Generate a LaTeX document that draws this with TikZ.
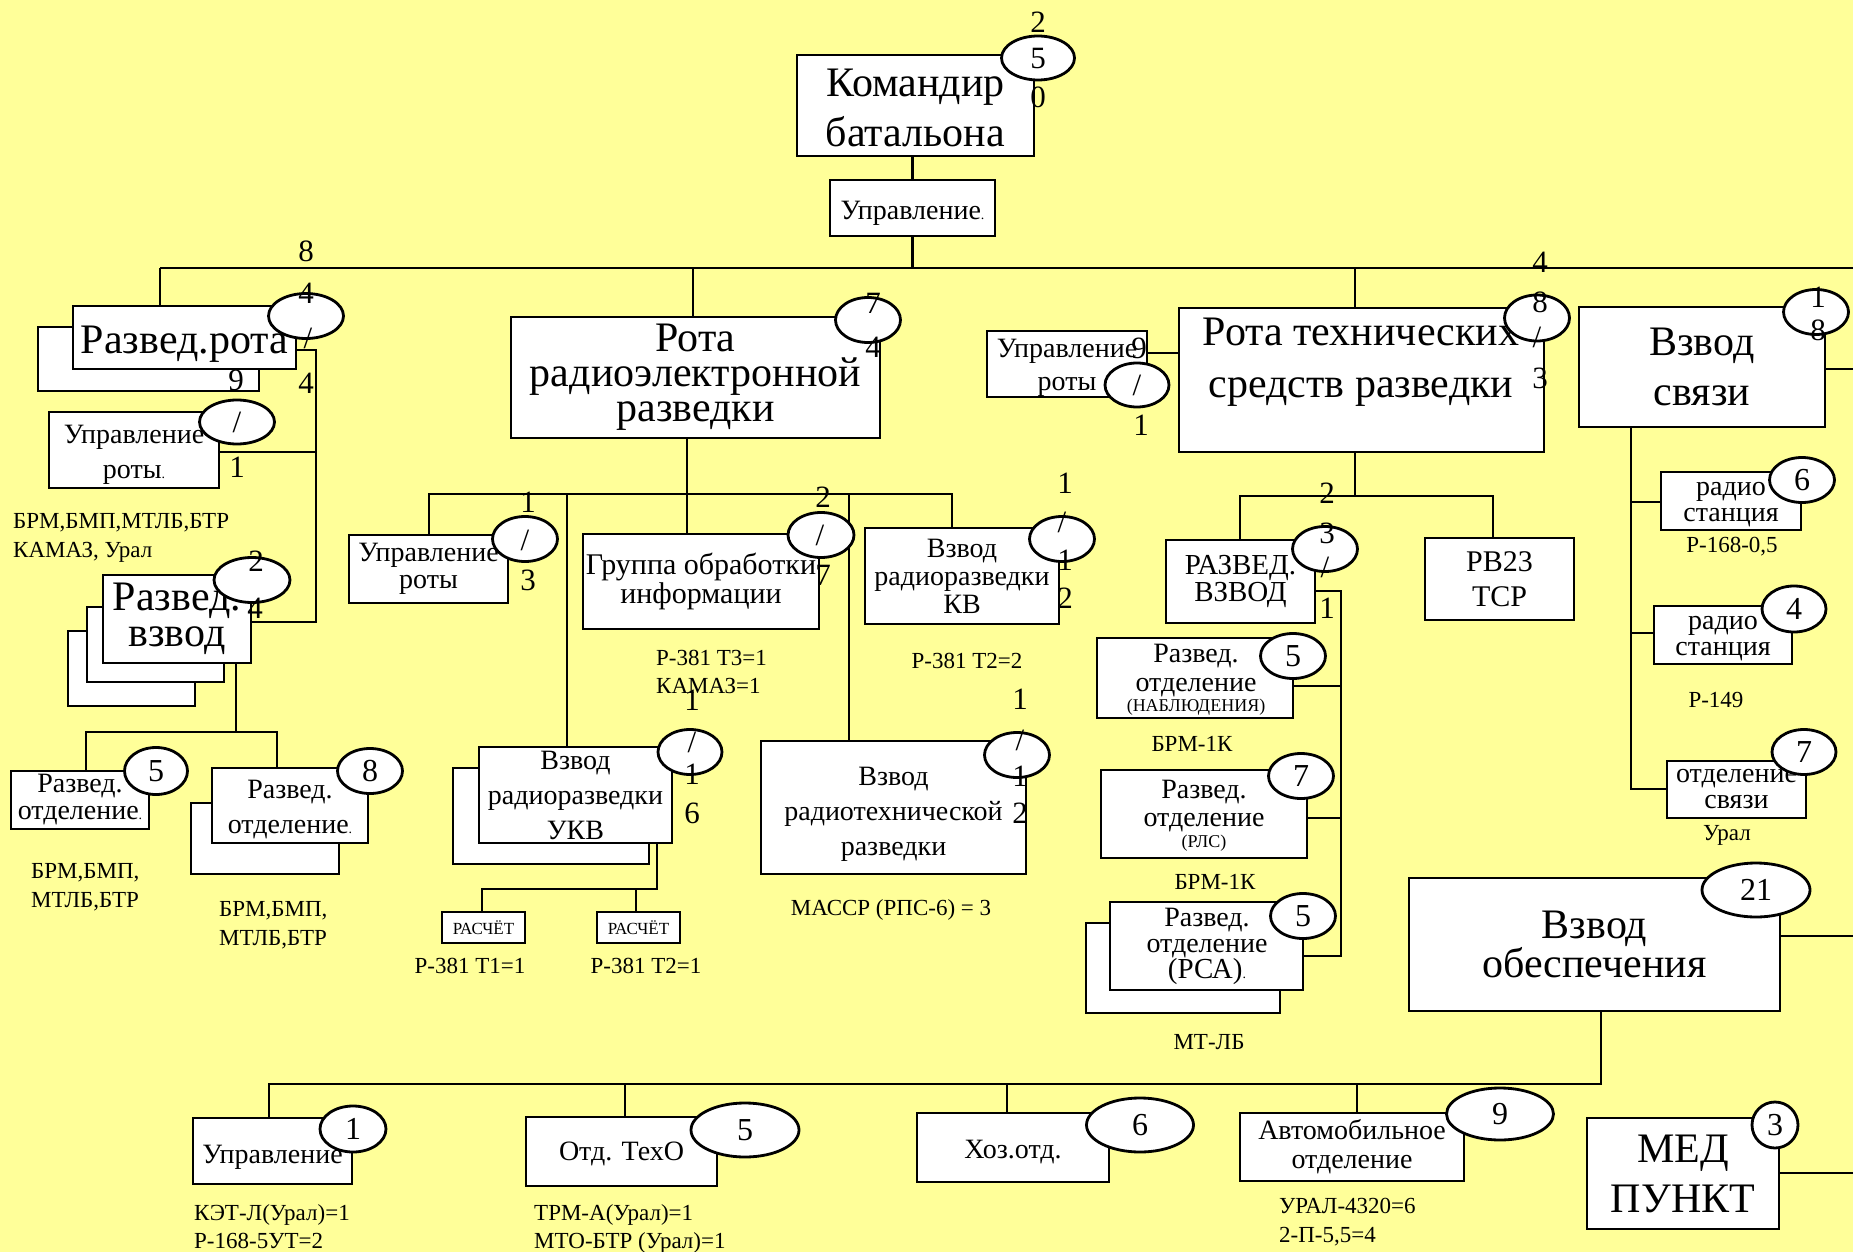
\documentclass[tikz,border=0pt]{standalone}
\usepackage{fontspec}
\setmainfont{Liberation Serif}
\usetikzlibrary{shapes.geometric}
\pgfdeclarelayer{bg}\pgfdeclarelayer{edges}
\pgfsetlayers{bg,edges,main}
\definecolor{bgy}{RGB}{255,255,153}
\newcommand\myfs[2]{\fontsize{#1}{#2}\selectfont}
\newcommand\smdot{{\myfs{14}{14}.}}
\begin{document}
\begin{tikzpicture}[x=1pt,y=-1pt,
  bx/.style={draw, fill=white, line width=2.2pt, inner sep=0pt, align=center},
  ov/.style={ellipse, draw, fill=white, line width=2.8pt, inner sep=0pt},
  cn/.style={line width=2.4pt},
  num/.style={font=\myfs{31}{31}, inner sep=0pt},
  onum/.style={font=\myfs{32}{32}},
  lab/.style={font=\myfs{23}{29}, inner sep=0pt},
  tx/.style={inner sep=0pt, align=center}]
\useasboundingbox (0,0) rectangle (1853,1252);
\begin{pgfonlayer}{bg}\fill[bgy] (0,0) rectangle (1853,1252);\end{pgfonlayer}

% ---------- top
\node[bx, minimum width=237pt, minimum height=101pt, font=\myfs{42}{50}] (kom) at (915.5,105.5) {};
\node[tx, font=\myfs{42}{50}] (komT) at (915.5,108) {Командир\\батальона};
\node[bx, minimum width=165pt, minimum height=56pt] (upr) at (912.5,208) {};
\node[tx, font=\myfs{28}{30}] (uprT) at (912.5,213) {Управление\smdot};

% ---------- left: razved rota
\node[bx, minimum width=221pt, minimum height=64pt] (rrotaB) at (148.5,359) {};
\node[bx, minimum width=223pt, minimum height=63pt] (rrota) at (184.5,337.5) {};
\node[tx, font=\myfs{42}{42}] (rrotaT) at (184.5,344) {Развед.рота};
\node[bx, minimum width=170pt, minimum height=76pt] (uprL) at (134,450) {};
\node[tx, font=\myfs{28}{35}] (uprLT) at (134,455) {Управление\\роты\smdot};
\node[bx, minimum width=127pt, minimum height=75pt] (rvzC) at (131.5,668.5) {};
\node[bx, minimum width=137pt, minimum height=75pt] (rvzB) at (155.5,644.5) {};
\node[bx, minimum width=148pt, minimum height=88pt, font=\myfs{42}{36}] (rvz) at (177,619) {Развед.\\взвод};
\node[bx, minimum width=138pt, minimum height=58pt, font=\myfs{28}{27}] (ot1) at (80,800) {Развед.\\отделение\smdot};
\node[bx, minimum width=148pt, minimum height=71pt] (ot2B) at (265,838.5) {};
\node[bx, minimum width=156pt, minimum height=75pt] (ot2) at (290,805.5) {};
\node[tx, font=\myfs{28}{35}] (ot2T) at (290,810) {Развед.\\отделение\smdot};

% ---------- rota radioelektronnoy
\node[bx, minimum width=369pt, minimum height=121pt, font=\myfs{42}{35}] (rre) at (695.5,377.5) {Рота\\радиоэлектронной\\разведки};
\node[bx, minimum width=159pt, minimum height=68pt, font=\myfs{28}{27}] (uprM) at (428.5,569) {Управление\\роты};
\node[bx, minimum width=236pt, minimum height=95pt, font=\myfs{30}{27}] (grp) at (701,581.5) {Группа обработки\\информации};
\node[bx, minimum width=194pt, minimum height=96pt, font=\myfs{28}{28}] (kv) at (962,576) {Взвод\\радиоразведки\\КВ};
\node[bx, minimum width=196pt, minimum height=96pt] (ukvB) at (551,816) {};
\node[bx, minimum width=193pt, minimum height=96pt, font=\myfs{28}{35}] (ukv) at (575.5,795) {Взвод\\радиоразведки\\УКВ};
\node[bx, minimum width=265pt, minimum height=133pt] (rt) at (893.5,807.5) {};
\node[tx, font=\myfs{28}{35}] (rtT) at (893.5,814) {Взвод\\радиотехнической\\разведки};
\node[bx, minimum width=83pt, minimum height=31pt, font=\myfs{17}{17}] (ras1) at (483.5,927.5) {РАСЧЁТ};
\node[bx, minimum width=83pt, minimum height=31pt, font=\myfs{17}{17}] (ras2) at (638.5,927.5) {РАСЧЁТ};

% ---------- rota tekhnicheskikh
\node[bx, minimum width=160pt, minimum height=66pt] (uprR) at (1067,364) {};
\node[tx, font=\myfs{28}{33}] (uprRT) at (1067,368) {Управление\\роты};
\node[bx, minimum width=365pt, minimum height=144pt] (rts) at (1361.5,380) {};
\node[tx, font=\myfs{42}{52}] (rtsT) at (1361,362) {Рота технических\\средств разведки};
\node[bx, minimum width=149pt, minimum height=83pt, font=\myfs{29}{23}] (razv) at (1240.5,581.5) {РАЗВЕД.\\ВЗВОД};
\node[bx, minimum width=196pt, minimum height=80pt] (nab) at (1195,678) {};
\node[tx, font=\myfs{28}{29}] (nabT) at (1196,671) {Развед.\\отделение};
\node[tx, font=\myfs{18}{18}] (nabS) at (1196,707) {(НАБЛЮДЕНИЯ)};
\node[bx, minimum width=206pt, minimum height=88pt] (rls) at (1204,814) {};
\node[tx, font=\myfs{28}{28}] (rlsT) at (1204,806) {Развед.\\отделение};
\node[tx, font=\myfs{18}{18}] (rlsS) at (1204,843) {(РЛС)};
\node[bx, minimum width=194pt, minimum height=90pt] (rsaB) at (1183,968) {};
\node[bx, minimum width=193pt, minimum height=88pt] (rsa) at (1206.5,946) {};
\node[tx, font=\myfs{28}{26}] (rsaT) at (1207,933) {Развед.\\отделение};
\node[tx, font=\myfs{29}{29}] (rsaS) at (1207,972) {(РСА)\smdot};
\node[bx, minimum width=149pt, minimum height=82pt, font=\myfs{30}{35}] (rv23) at (1499.5,579) {РВ23\\ТСР};

% ---------- vzvod svyazi
\node[bx, minimum width=246pt, minimum height=120pt, font=\myfs{42}{50}] (svz) at (1702,367) {Взвод\\связи};
\node[bx, minimum width=140pt, minimum height=58pt] (rs1) at (1731,501) {};
\node[tx, font=\myfs{28}{26}] (rs1T) at (1731,505) {радио\\станция};
\node[bx, minimum width=138pt, minimum height=58pt] (rs2) at (1723,635) {};
\node[tx, font=\myfs{28}{26}] (rs2T) at (1723,639) {радио\\станция};
\node[bx, minimum width=139pt, minimum height=57pt, font=\myfs{28}{26}] (os) at (1736.5,789.5) {отделение\\связи};

% ---------- vzvod obespecheniya
\node[bx, minimum width=371pt, minimum height=133pt, font=\myfs{42}{36}] (obs) at (1594.5,944.5) {Взвод\\обеспечения};
\node[bx, minimum width=159pt, minimum height=66pt] (uprB) at (272.5,1151) {};
\node[tx, font=\myfs{28}{30}] (uprBT) at (272.5,1157) {Управление};
\node[bx, minimum width=191pt, minimum height=69pt] (teh) at (621.5,1151.5) {};
\node[tx, font=\myfs{28}{30}] (tehT) at (621.5,1154) {Отд. ТехО};
\node[bx, minimum width=192pt, minimum height=69pt] (hoz) at (1013,1147.5) {};
\node[tx, font=\myfs{28}{30}] (hozT) at (1013,1152) {Хоз.отд.};
\node[bx, minimum width=224pt, minimum height=68pt, font=\myfs{28}{29}] (avto) at (1352,1147) {Автомобильное\\отделение};
\node[bx, minimum width=192pt, minimum height=111pt, font=\myfs{42}{50}] (med) at (1683,1173.5) {МЕД\\ПУНКТ};

% ---------- ellipses
\node[ov, minimum width=73pt, minimum height=44pt] (ekom) at (1038,58) {};
\node[ov, minimum width=75pt, minimum height=45pt] (errota) at (306,316) {};
\node[ov, minimum width=75pt, minimum height=44pt] (euprL) at (237,422) {};
\node[ov, minimum width=76pt, minimum height=45pt] (ervz) at (252,580) {};
\node[ov, minimum width=63pt, minimum height=47pt, onum] (eot1) at (156,771) {5};
\node[ov, minimum width=65pt, minimum height=45pt, onum] (eot2) at (370,771) {8};
\node[ov, minimum width=65pt, minimum height=45pt] (erre) at (868,320) {};
\node[ov, minimum width=65pt, minimum height=45pt] (euprM) at (525,539) {};
\node[ov, minimum width=66pt, minimum height=45pt] (egrp) at (821,535) {};
\node[ov, minimum width=65pt, minimum height=45pt] (ekv) at (1062,539) {};
\node[ov, minimum width=64pt, minimum height=45pt] (eukv) at (690,752) {};
\node[ov, minimum width=65pt, minimum height=45pt] (ert) at (1017,755) {};
\node[ov, minimum width=64pt, minimum height=44pt] (euprR) at (1137,385) {};
\node[ov, minimum width=65pt, minimum height=46pt] (erts) at (1537,318) {};
\node[ov, minimum width=65pt, minimum height=45pt] (erazv) at (1325,549) {};
\node[ov, minimum width=65pt, minimum height=45pt, onum] (enab) at (1293,656) {5};
\node[ov, minimum width=65pt, minimum height=45pt, onum] (erls) at (1301,776) {7};
\node[ov, minimum width=65pt, minimum height=45pt, onum] (ersa) at (1303,916) {5};
\node[ov, minimum width=65pt, minimum height=45pt] (esvz) at (1816,312) {};
\node[ov, minimum width=65pt, minimum height=45pt, onum] (ers1) at (1802,480) {6};
\node[ov, minimum width=64pt, minimum height=46pt, onum] (ers2) at (1794,609) {4};
\node[ov, minimum width=64pt, minimum height=45pt, onum] (eos) at (1804,752) {7};
\node[ov, minimum width=108pt, minimum height=54pt, onum] (eobs) at (1756,890) {21};
\node[ov, minimum width=66pt, minimum height=46pt, onum] (euprB) at (353,1129) {1};
\node[ov, minimum width=108pt, minimum height=54pt, onum] (eteh) at (745,1130) {5};
\node[ov, minimum width=107pt, minimum height=54pt, onum] (ehoz) at (1140,1125) {6};
\node[ov, minimum width=107pt, minimum height=52pt, onum] (eavto) at (1500,1114) {9};
\node[ov, minimum width=46pt, minimum height=46pt, onum] (emed) at (1775,1125) {3};

% ---------- stacked numbers
\node[num] (nk1) at (1038,22) {2};
\node[num] (nk2) at (1038,59) {5};
\node[num] (nk3) at (1038,97) {0};
\node[num] (nr1) at (306,251) {8};
\node[num] (nr2) at (306,293) {4};
\node[num] (nr3) at (308,338) {/};
\node[num] (nr4) at (306,383) {4};
\node[num] (nu1) at (236,380) {9};
\node[num] (nu2) at (237,422) {/};
\node[num] (nu3) at (237,467) {1};
\node[num] (nv1) at (256,561) {2};
\node[num] (nv2) at (255,608) {4};
\node[num] (ne1) at (873,303) {7};
\node[num] (ne2) at (873,347) {4};
\node[num] (nm1) at (528,502) {1};
\node[num] (nm2) at (525,540) {/};
\node[num] (nm3) at (528,580) {3};
\node[num] (ng1) at (823,497) {2};
\node[num] (ng2) at (820,535) {/};
\node[num] (ng3) at (823,575) {7};
\node[num] (nq1) at (1065,483) {1};
\node[num] (nq2) at (1062,522) {/};
\node[num] (nq3) at (1065,560) {1};
\node[num] (nq4) at (1065,598) {2};
\node[num] (nw1) at (692,700) {1};
\node[num] (nw2) at (692,742) {/};
\node[num] (nw3) at (692,774) {1};
\node[num] (nw4) at (692,813) {6};
\node[num] (nt1) at (1020,699) {1};
\node[num] (nt2) at (1020,740) {/};
\node[num] (nt3) at (1020,776) {1};
\node[num] (nt4) at (1020,813) {2};
\node[num] (nx1) at (1139,348) {9};
\node[num] (nx2) at (1137,385) {/};
\node[num] (nx3) at (1141,425) {1};
\node[num] (ny1) at (1540,262) {4};
\node[num] (ny2) at (1540,302) {8};
\node[num] (ny3) at (1537,337) {/};
\node[num] (ny4) at (1540,378) {3};
\node[num] (nz1) at (1327,493) {2};
\node[num] (nz2) at (1327,533) {3};
\node[num] (nz3) at (1325,567) {/};
\node[num] (nz4) at (1327,608) {1};
\node[num] (ns1) at (1818,297) {1};
\node[num] (ns2) at (1818,330) {8};

% ---------- labels
\node[lab, anchor=base west] (l1a) at (13,528) {БРМ,БМП,МТЛБ,БТР};
\node[lab, anchor=base west] (l1b) at (13,557) {КАМАЗ, Урал};
\node[lab, anchor=base west] (l2a) at (31,878) {БРМ,БМП,};
\node[lab, anchor=base west] (l2b) at (31,907) {МТЛБ,БТР};
\node[lab, anchor=base west] (l3a) at (219,916) {БРМ,БМП,};
\node[lab, anchor=base west] (l3b) at (219,945) {МТЛБ,БТР};
\node[lab, anchor=base west] (l4a) at (656,665) {Р-381 Т3=1};
\node[lab, anchor=base west] (l4b) at (656,693) {КАМАЗ=1};
\node[lab, anchor=base] (l5) at (967,668) {Р-381 Т2=2};
\node[lab, anchor=base] (l6) at (470,973) {Р-381 Т1=1};
\node[lab, anchor=base] (l7) at (646,973) {Р-381 Т2=1};
\node[lab, anchor=base] (l8) at (891,915) {МАССР (РПС-6) = 3};
\node[lab, anchor=base] (l9) at (1192,751) {БРМ-1К};
\node[lab, anchor=base] (l10) at (1215,889) {БРМ-1К};
\node[lab, anchor=base] (l11) at (1209,1049) {МТ-ЛБ};
\node[lab, anchor=base] (l12) at (1732,552) {Р-168-0,5};
\node[lab, anchor=base] (l13) at (1716,707) {Р-149};
\node[lab, anchor=base] (l14) at (1727,840) {Урал};
\node[lab, anchor=base west] (l15a) at (194,1220) {КЭТ-Л(Урал)=1};
\node[lab, anchor=base west] (l15b) at (194,1248) {Р-168-5УТ=2};
\node[lab, anchor=base west] (l16a) at (534,1220) {ТРМ-А(Урал)=1};
\node[lab, anchor=base west] (l16b) at (534,1248) {МТО-БТР (Урал)=1};
\node[lab, anchor=base west] (l17a) at (1279,1213) {УРАЛ-4320=6};
\node[lab, anchor=base west] (l17b) at (1279,1242) {2-П-5,5=4};

% ---------- connectors
\coordinate (busL) at (160,268); \coordinate (busR) at (1853,268);
\coordinate (busA) at (693,268); \coordinate (busB) at (1355,268);
\coordinate (jL1) at (316,350); \coordinate (jL2) at (316,622); \coordinate (jL3) at (316,452);
\coordinate (jV) at (236,732); \coordinate (jVa) at (86,732); \coordinate (jVb) at (277,732);
\coordinate (jR) at (687,494); \coordinate (jRa) at (429,494); \coordinate (jRb) at (952,494);
\coordinate (jRc) at (567,494); \coordinate (jRd) at (849,494);
\coordinate (jU) at (657,889); \coordinate (jUa) at (482,889); \coordinate (jUb) at (636,889);
\coordinate (jT0) at (1160,353);
\coordinate (jT) at (1355,496); \coordinate (jTa) at (1240,496); \coordinate (jTb) at (1493,496);
\coordinate (jZ1) at (1341,591); \coordinate (jZ2) at (1341,686); \coordinate (jZ3) at (1341,818); \coordinate (jZ4) at (1341,956);
\coordinate (jS0) at (1853,369);
\coordinate (jS) at (1631,789); \coordinate (jS1) at (1631,502); \coordinate (jS2) at (1631,633);
\coordinate (jO0) at (1853,936);
\coordinate (jO) at (1601,1084); \coordinate (jOa) at (269,1084); \coordinate (jOb) at (625,1084);
\coordinate (jOc) at (1007,1084); \coordinate (jOd) at (1357,1084);
\coordinate (jM0) at (1853,1173);
\begin{pgfonlayer}{edges}
\draw[cn] (upr.north) -- (upr.north |- kom.south);
\draw[cn] (upr.south) -- (upr.south |- busL);
\draw[cn] (busL) -- (busR);
\draw[cn] (busL) -- (busL |- rrota.north);
\draw[cn] (busA) -- (busA |- rre.north);
\draw[cn] (busB) -- (busB |- rts.north);
\draw[cn] (rrota.east |- jL1) -- (jL1) -- (jL2) -- (rvz.east |- jL2);
\draw[cn] (uprL.east |- jL3) -- (jL3);
\draw[cn] (jV |- rvz.south) -- (jV);
\draw[cn] (jVa |- ot1.north) -- (jVa) -- (jVb) -- (jVb |- ot2.north);
\draw[cn] (jR |- rre.south) -- (jR |- grp.north);
\draw[cn] (jRa |- uprM.north) -- (jRa) -- (jRb) -- (jRb |- kv.north);
\draw[cn] (jRc) -- (jRc |- ukv.north);
\draw[cn] (jRd) -- (jRd |- rt.north);
\draw[cn] (jU |- ukv.south) -- (jU) -- (jUa) -- (jUa |- ras1.north);
\draw[cn] (jUb) -- (jUb |- ras2.north);
\draw[cn] (uprR.east |- jT0) -- (rts.west |- jT0);
\draw[cn] (jT |- rts.south) -- (jT);
\draw[cn] (jTa |- razv.north) -- (jTa) -- (jTb) -- (jTb |- rv23.north);
\draw[cn] (razv.east |- jZ1) -- (jZ1) -- (jZ4) -- (rsa.east |- jZ4);
\draw[cn] (nab.east |- jZ2) -- (jZ2);
\draw[cn] (rls.east |- jZ3) -- (jZ3);
\draw[cn] (svz.east |- jS0) -- (jS0);
\draw[cn] (jS |- svz.south) -- (jS) -- (os.west |- jS);
\draw[cn] (jS1) -- (rs1.west |- jS1);
\draw[cn] (jS2) -- (rs2.west |- jS2);
\draw[cn] (obs.east |- jO0) -- (jO0);
\draw[cn] (jO |- obs.south) -- (jO) -- (jOa) -- (jOa |- uprB.north);
\draw[cn] (jOb) -- (jOb |- teh.north);
\draw[cn] (jOc) -- (jOc |- hoz.north);
\draw[cn] (jOd) -- (jOd |- avto.north);
\draw[cn] (med.east |- jM0) -- (jM0);
\end{pgfonlayer}
\end{tikzpicture}
\end{document}
